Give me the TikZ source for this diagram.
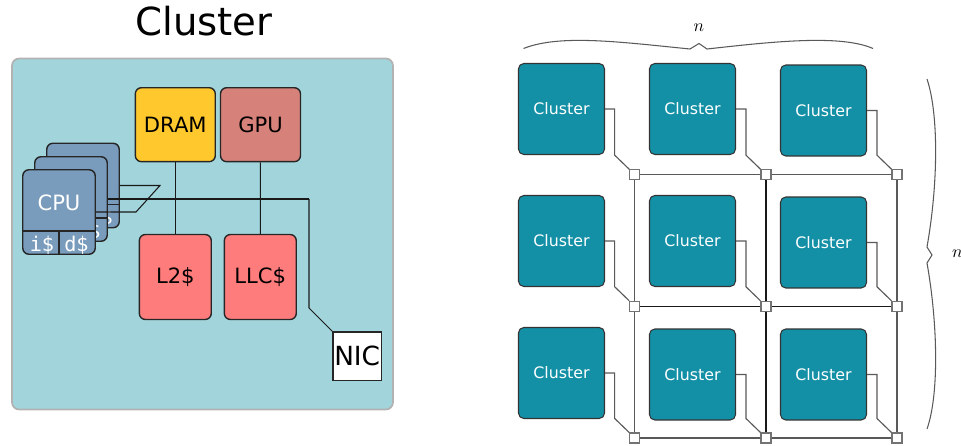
\documentclass[tikz,border=0pt]{standalone}
\usepackage{fontspec}
\setmainfont{DejaVu Sans}
\setmonofont{DejaVu Sans Mono}
\usepackage{tikz}
\usetikzlibrary{calc}
\usetikzlibrary{positioning}
\definecolor{panelc}{HTML}{A2D5DB}
\definecolor{cpuc}{HTML}{7A9CBC}
\definecolor{dramc}{HTML}{FFC92D}
\definecolor{gpuc}{HTML}{D6827A}
\definecolor{cachec}{HTML}{FF7C7C}
\definecolor{clusterc}{HTML}{1390A6}
\tikzset{
  cpubox/.style={draw=black!85, line width=0.8pt, fill=cpuc, rounded corners=3.5pt, minimum width=1.45cm, minimum height=1.69cm, inner sep=0pt},
  unitbox/.style={draw=black!85, line width=0.8pt, rounded corners=3.5pt, minimum width=1.44cm, minimum height=1.7cm, inner sep=0pt, font=\fontsize{12}{14}\selectfont},
  topbox/.style={unitbox, minimum width=1.6cm, minimum height=1.48cm},
  clusterbox/.style={draw=black!80, line width=0.6pt, fill=clusterc, rounded corners=3pt, minimum width=1.72cm, minimum height=1.82cm, inner sep=0pt, text=white, font=\fontsize{9}{11}\selectfont},
  routerbox/.style={draw=black!55, line width=0.6pt, fill=white, minimum size=0.2cm, inner sep=0pt},
  wire/.style={draw=black!65, line width=0.65pt},
  bus/.style={draw=black!90, line width=0.6pt},
  bracket/.style={draw=black!65, line width=0.6pt},
}
\begin{document}
\begin{tikzpicture}[x=0.02cm, y=-0.02cm]

      \useasboundingbox (0, 0) rectangle (961, 446);

      \node [font=\fontsize{22}{26}\selectfont] (title) at (204, 21) {Cluster};
      \node [draw=black!30, line width=1pt, fill=panelc, rounded corners=4pt, minimum width=7.62cm, minimum height=7.02cm] (panel) at (202.5, 234) {};

      % the three cpu cards, back to front
      \foreach \name/\cx/\cy in {cpuc/83/185.5, cpub/71/199, cpua/59/212} {
        \node [cpubox] (\name) at (\cx, \cy) {};
        \node [text=white, font=\fontsize{12}{14}\selectfont] (\name label) at (\cx, \cy-9) {CPU};
        \coordinate (\name split) at (\cx, \cy+19);
        \draw [draw=black!85, line width=0.6pt] (\name.west |- \name split) -- (\name.east |- \name split);
        \draw [draw=black!85, line width=0.6pt] (\name split) -- (\name.south);
        \node [text=white, font=\ttfamily\fontsize{11.5}{13}\selectfont] (\name i) at (\cx-17, \cy+33) {i\$};
        \node [text=white, font=\ttfamily\fontsize{11.5}{13}\selectfont] (\name d) at (\cx+17.5, \cy+33) {d\$};
      }

      \coordinate (busa) at (160, 185.5);
      \coordinate (busb) at (136, 212);
      \coordinate (busc) at (309, 199);
      \coordinate (nicbend) at (309, 308);
      \draw [bus] (cpuc.east) -- (busa) -- (busb) -- (cpua.east);
      \draw [bus] (cpub.east) -- (busc);

      \node [topbox, fill=dramc] (dram) at (175.3, 124.7) {DRAM};
      \node [topbox, fill=gpuc] (gpu) at (260.5, 124.7) {GPU};
      \node [unitbox, fill=cachec] (ltwo) at (175.3, 277) {L2\$};
      \node [unitbox, fill=cachec] (llc) at (260.3, 277) {LLC\$};
      \node [draw=black!85, line width=0.7pt, fill=white, minimum size=0.97cm, inner sep=0pt, font=\fontsize{15}{17}\selectfont] (nic) at (357.2, 356.2) {NIC};
      \draw [bus] (dram) -- (ltwo);
      \draw [bus] (gpu) -- (llc);
      \draw [bus] (busc) -- (nicbend) -- (nic.north west);

      % clusters
      \foreach \name/\cx/\cy in {aa/561.5/109, ba/692.5/109, ca/823.5/110.5,
                                 ab/561.5/241, bb/692.5/241, cb/823.5/242.5,
                                 ac/561.5/373, bc/692.5/374.5, cc/823.5/374.5}
        \node [clusterbox] (cl\name) at (\cx, \cy) {Cluster};

      \foreach \name/\rx/\ry in {aa/634.7/174.7, ba/766/174.7, ca/897/174.7,
                                 ab/634.7/306.3, bb/766/306.3, cb/897/306.3,
                                 ac/634.7/438, bc/766/438, cc/897/438}
        \node [routerbox] (r\name) at (\rx, \ry) {};

      % links sit behind the router squares
      \begin{scope}[on background layer/.style={}]
      \foreach \from/\to in {raa/rba, rba/rca, rac/rbc, rbc/rcc, raa/rab, rab/rac, rca/rcb, rcb/rcc}
        \draw [wire] (\from) -- (\to);
      \foreach \from/\to in {rab/rbb, rbb/rcb, rba/rbb, rbb/rbc}
        \draw [bus] (\from) -- (\to);
      \end{scope}
      \foreach \name/\rx/\ry in {aa/634.7/174.7, ba/766/174.7, ca/897/174.7,
                                 ab/634.7/306.3, bb/766/306.3, cb/897/306.3,
                                 ac/634.7/438, bc/766/438, cc/897/438}
        \node [routerbox] (r\name) at (\rx, \ry) {};

      \foreach \name in {aa, ba, ca, ab, bb, cb, ac, bc, cc}
        \draw [wire] (cl\name.east) -| ($(r\name.north west)+(-14.5, -14)$) -- (r\name.north west);

      % braces
      \draw [bracket] (523.5, 48.5) .. controls (560, 34) and (620, 42) .. (690, 49) -- (699, 43.5) -- (707, 49) .. controls (770, 42) and (840, 34) .. (873, 48.5);
      \node [font=\fontsize{10}{12}\selectfont] (nlabel) at (699, 28) {$n$};
      \draw [bracket] (927, 79) .. controls (939, 115) and (938, 185) .. (927, 247) -- (932, 255) -- (927, 263) .. controls (938, 325) and (939, 395) .. (927, 429);
      \node [font=\fontsize{10}{12}\selectfont] (mlabel) at (957.5, 254) {$n$};

    \end{tikzpicture}
\end{document}
